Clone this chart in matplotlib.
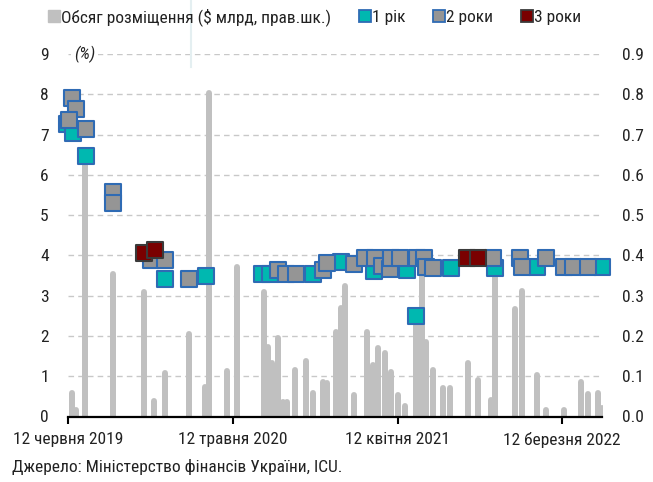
import matplotlib
matplotlib.use("Agg")
import matplotlib.pyplot as plt
import matplotlib.ticker as mticker
from matplotlib.lines import Line2D
import pandas as pd

plt.rcParams['font.family'] = ['Roboto Condensed', 'DejaVu Sans']

# ---- data ----
bar_dates = ["2019-06-19", "2019-06-27", "2019-07-16", "2019-09-10", "2019-11-13", "2019-12-04",
             "2019-12-26", "2020-02-12", "2020-03-15", "2020-03-24", "2020-04-29", "2020-05-20",
             "2020-07-14", "2020-07-22", "2020-07-30", "2020-08-12", "2020-08-22", "2020-08-29",
             "2020-09-15", "2020-10-08", "2020-10-21", "2020-11-11", "2020-11-19", "2020-12-08",
             "2020-12-17", "2020-12-26", "2021-01-13", "2021-02-09", "2021-02-20", "2021-03-02",
             "2021-03-16", "2021-03-30", "2021-04-12", "2021-04-27", "2021-05-18", "2021-05-31",
             "2021-06-09", "2021-06-23", "2021-07-13", "2021-07-27", "2021-09-01", "2021-09-21",
             "2021-10-18", "2021-10-26", "2021-12-07", "2021-12-21", "2022-01-19", "2022-02-08",
             "2022-03-15", "2022-04-19", "2022-05-04", "2022-05-24", "2022-05-31"]
bar_values = [0.058, 0.016, 0.64, 0.355, 0.31, 0.038,
              0.109, 0.206, 0.074, 0.803, 0.114, 0.372,
              0.31, 0.173, 0.134, 0.194, 0.037, 0.037,
              0.115, 0.138, 0.058, 0.086, 0.083, 0.209,
              0.27, 0.325, 0.053, 0.21, 0.128, 0.169,
              0.158, 0.111, 0.053, 0.026, 0.24, 0.36,
              0.186, 0.115, 0.07, 0.07, 0.134, 0.091,
              0.041, 0.36, 0.266, 0.311, 0.103, 0.016,
              0.016, 0.086, 0.055, 0.059, 0.02]

y1_dates = ["2019-06-09", "2019-06-21", "2019-07-18", "2019-12-26", "2020-03-17", "2020-07-09",
            "2020-07-26", "2020-10-22", "2020-12-17", "2021-02-22", "2021-04-30", "2021-05-19",
            "2021-07-29", "2021-10-26", "2022-01-19", "2022-06-02"]
y1_values = [7.25, 7.04, 6.46, 3.41, 3.49, 3.53,
             3.53, 3.54, 3.83, 3.61, 3.64, 2.50,
             3.69, 3.68, 3.72, 3.72]

y2_dates = ["2019-06-20", "2019-06-27", "2019-06-13", "2019-07-18", "2019-09-11", "2019-09-11",
            "2019-11-28", "2019-12-26", "2020-02-12", "2020-08-12", "2020-08-27", "2020-09-16",
            "2020-11-10", "2020-11-18", "2021-01-13", "2021-02-04", "2021-02-24", "2021-03-10",
            "2021-03-26", "2021-03-30", "2021-04-16", "2021-05-20", "2021-06-04", "2021-06-09",
            "2021-06-23", "2021-10-22", "2021-12-16", "2021-12-21", "2022-02-08", "2022-03-15",
            "2022-04-03", "2022-05-04"]
y2_values = [7.90, 7.63, 7.37, 7.13, 5.58, 5.29,
             3.88, 3.88, 3.41, 3.64, 3.53, 3.53,
             3.64, 3.80, 3.78, 3.93, 3.93, 3.74,
             3.65, 3.94, 3.94, 3.94, 3.94, 3.72,
             3.69, 3.94, 3.94, 3.72, 3.94, 3.72,
             3.72, 3.72]

y3_dates = ["2019-11-13", "2019-12-05", "2021-08-31", "2021-09-21"]
y3_values = [4.05, 4.13, 3.93, 3.93]

tick_dates = ["2019-06-12", "2020-05-12", "2021-04-12", "2022-03-12"]
tick_labels = ["12 червня 2019", "12 травня 2020", "12 квітня 2021", "12 березня 2022"]

legend_labels = ["Обсяг розміщення ($ млрд, прав.шк.)", "1 рік", "2 роки", "3 роки"]
source_text = "Джерело: Міністерство фінансів України, ICU."

# ---- styles ----
BAR_C = "#c0c0c0"
TEAL = "#00b8b0"
BLUE = "#2f6bb4"
GRAY = "#959595"
DRED = "#7a0000"
DEDGE = "#3a3a3a"
TXT = "#222222"
FS = 12.5

fig = plt.figure(figsize=(6.53, 4.82), dpi=100)
ax2 = fig.add_axes([68.3/653, 1 - 416.5/482, (602.5-68.3)/653, (416.5-54)/482])
ax = ax2.twinx()
ax.set_zorder(ax2.get_zorder() + 1)
ax.patch.set_visible(False)

bd = pd.to_datetime(bar_dates)
lc = ax2.vlines(bd, 0, bar_values, color=BAR_C, linewidth=4.3)
lc.set_capstyle('round')

ax2.set_ylim(0, 0.9)
ax2.set_yticks([i/10 for i in range(10)])
ax2.yaxis.set_major_formatter(mticker.FormatStrFormatter('%.1f'))
ax2.yaxis.tick_right()
ax2.grid(axis='y', color='#c8c8c8', linestyle=(0, (4, 3)), linewidth=1.0)
ax2.set_axisbelow(True)

ax.set_ylim(0, 9)
ax.set_yticks(range(10))
ax.yaxis.tick_left()

ms = 11.5
ax.scatter(pd.to_datetime(y1_dates), y1_values, marker='s', s=ms**2, facecolor=TEAL,
           edgecolor=BLUE, linewidths=1.5, clip_on=False, zorder=3)
ax.scatter(pd.to_datetime(y2_dates), y2_values, marker='s', s=ms**2, facecolor=GRAY,
           edgecolor=BLUE, linewidths=1.5, clip_on=False, zorder=4)
ax.scatter(pd.to_datetime(y3_dates), y3_values, marker='s', s=ms**2, facecolor=DRED,
           edgecolor=DEDGE, linewidths=1.5, clip_on=False, zorder=5)

ax2.set_xlim(pd.Timestamp("2019-06-12"), pd.Timestamp("2022-06-02"))
ax2.set_xticks(pd.to_datetime(tick_dates))
ax2.set_xticklabels(tick_labels, fontsize=FS, color=TXT)
ax2.tick_params(axis='x', direction='out', length=5, width=1.5, color='black', pad=6)
ax2.tick_params(axis='y', length=0, labelsize=FS, labelcolor=TXT, pad=14)
ax.tick_params(axis='y', length=0, labelsize=FS, labelcolor=TXT, pad=14)

for a in (ax, ax2):
    for s in ('top', 'left', 'right', 'bottom'):
        a.spines[s].set_visible(False)
ax2.spines['bottom'].set_visible(True)
ax2.spines['bottom'].set_linewidth(1.6)
ax2.spines['bottom'].set_color('black')
ax2.spines['bottom'].set_zorder(6)

ax.text(0.01, 9, "(%)", fontsize=FS, style='italic', color=TXT, ha='left', va='center',
        transform=ax.get_yaxis_transform(),
        bbox=dict(facecolor='white', edgecolor='none', pad=2))

# faint artifact line
fig.add_artist(Line2D([190.5/653, 190.5/653], [1, 1 - 67/482], color='#e4eff1', linewidth=1.5))

handles = [
    Line2D([], [], linestyle='none', marker='s', markersize=8.5, markerfacecolor=BAR_C, markeredgecolor=BAR_C),
    Line2D([], [], linestyle='none', marker='s', markersize=8, markerfacecolor=TEAL, markeredgecolor=BLUE, markeredgewidth=1.3),
    Line2D([], [], linestyle='none', marker='s', markersize=8, markerfacecolor=GRAY, markeredgecolor=BLUE, markeredgewidth=1.3),
    Line2D([], [], linestyle='none', marker='s', markersize=8, markerfacecolor=DRED, markeredgecolor=DEDGE, markeredgewidth=1.3),
]
fig.legend(handles, legend_labels, loc='upper left', bbox_to_anchor=(48/653, 1 - 8/482),
           ncol=4, frameon=False, fontsize=FS, handlelength=0.7, handletextpad=0.05,
           columnspacing=1.6, borderpad=0, borderaxespad=0, labelcolor=TXT)

fig.text(12/653, 1 - 467/482, source_text, fontsize=FS, color=TXT, ha='left', va='center')

fig.savefig("out.png", dpi=100)
